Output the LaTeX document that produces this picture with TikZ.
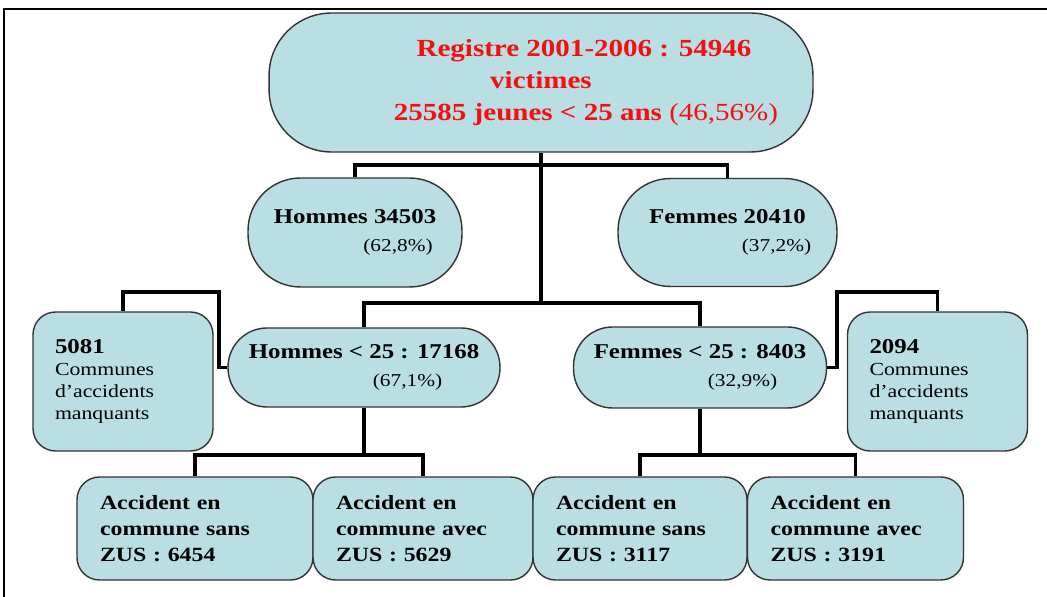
\documentclass[tikz,border=0pt]{standalone}
\usepackage{fontspec}
\setmainfont[FakeStretch=1.18]{Liberation Serif}
\definecolor{boxfill}{RGB}{185,223,228}
\definecolor{rouge}{RGB}{245,15,15}

\begin{document}
\begin{tikzpicture}[x=0.02cm,y=-0.02cm,
	boite/.style={draw=black!80, line width=0.8pt, fill=boxfill, inner sep=0pt},
	ovale/.style={boite, align=center, font=\fontsize{10.3}{16}\selectfont},
	carre/.style={boite, rounded corners=0.45cm, align=left, minimum height=2.78cm, inner xsep=0.44cm, text width=2.72cm, font=\fontsize{10.5}{12.5}\selectfont},
	accident/.style={boite, rounded corners=0.45cm, align=left, minimum height=2.06cm, inner xsep=0.46cm, font=\fontsize{11.5}{15}\selectfont\bfseries},
	lien/.style={line width=2.2pt, black},
	cadre/.style={line width=1.2pt, black}]
	  \useasboundingbox (0,0) rectangle (1047,597);
	  \draw[cadre] (4,597) -- (4,9) -- (1047,9);   % cadre

	  % registre
	  \node[boite, align=center, rounded corners=1.25cm, minimum width=10.88cm, minimum height=2.78cm, text=rouge, font=\fontsize{14}{18}\selectfont\bfseries] (reg) at (541,82.5)
	  	{\hspace*{1.72cm}Registre 2001-2006 : 54946\\victimes\\\hspace*{1.8cm}25585 jeunes < 25 ans {\mdseries (46,56\%)}};

	  % hommes / femmes
	  \node[ovale, rounded corners=1.05cm, minimum width=4.28cm, minimum height=2.18cm] (hom) at (355,232.5)
	  	{{\fontsize{12}{16}\selectfont\bfseries Hommes 34503}\\\hspace*{1.72cm}(62,8\%)};
	  \node[ovale, rounded corners=1.05cm, minimum width=4.38cm, minimum height=2.16cm] (fem) at (727.5,232.5)
	  	{{\fontsize{12}{16}\selectfont\bfseries Femmes 20410}\\\hspace*{1.96cm}(37,2\%)};

	  % moins de 25 ans
	  \node[ovale, rounded corners=0.78cm, minimum width=5.44cm, minimum height=1.58cm] (hom25) at (364,367.5)
	  	{{\fontsize{12}{16}\selectfont\bfseries Hommes < 25 : 17168}\\\hspace*{1.74cm}(67,1\%)};
	  \node[ovale, rounded corners=0.78cm, minimum width=5.06cm, minimum height=1.62cm] (fem25) at (700,367.5)
	  	{{\fontsize{12}{16}\selectfont\bfseries Femmes < 25 : 8403}\\\hspace*{1.7cm}(32,9\%)};

	  % communes manquantes
	  \node[carre] (mq1) at (123,381.5) {{\fontsize{12}{12.5}\selectfont\bfseries 5081}\\Communes\\d’accidents\\manquants};
	  \node[carre] (mq2) at (937.5,381.5) {{\fontsize{12}{12.5}\selectfont\bfseries 2094}\\Communes\\d’accidents\\manquants};

	  % accidents
	  \node[accident, text width=3.8cm] (acc1) at (195,528.5) {Accident en\\commune sans\\ZUS : 6454};
	  \node[accident, text width=3.48cm] (acc2) at (423,528.5) {Accident en\\commune avec\\ZUS : 5629};
	  \node[accident, text width=3.36cm] (acc3) at (640,528.5) {Accident en\\commune sans\\ZUS : 3117};
	  \node[accident, text width=3.4cm] (acc4) at (855.5,528.5) {Accident en\\commune avec\\ZUS : 3191};

	  % liens
	  \coordinate (j1) at (541,165);
	  \coordinate (j2) at (541,303);
	  \coordinate (j3) at (364,455);
	  \coordinate (j4) at (700,455);
	  \coordinate (c1) at (219,292);
	  \coordinate (c2) at (837,292);
	  \draw[lien] (reg.south) -- (j2);
	  \draw[lien] (hom.north) |- (j1) -| (fem.north);
	  \draw[lien] (hom25.north) |- (j2) -| (fem25.north);
	  \draw[lien] (mq1.north) |- (c1) |- (hom25.west);
	  \draw[lien] (fem25.east) -| (c2) -| (mq2.north);
	  \draw[lien] (hom25.south) -- (j3);
	  \draw[lien] (acc1.north) |- (j3) -| (acc2.north);
	  \draw[lien] (fem25.south) -- (j4);
	  \draw[lien] (acc3.north) |- (j4) -| (acc4.north);
	\end{tikzpicture}
\end{document}
